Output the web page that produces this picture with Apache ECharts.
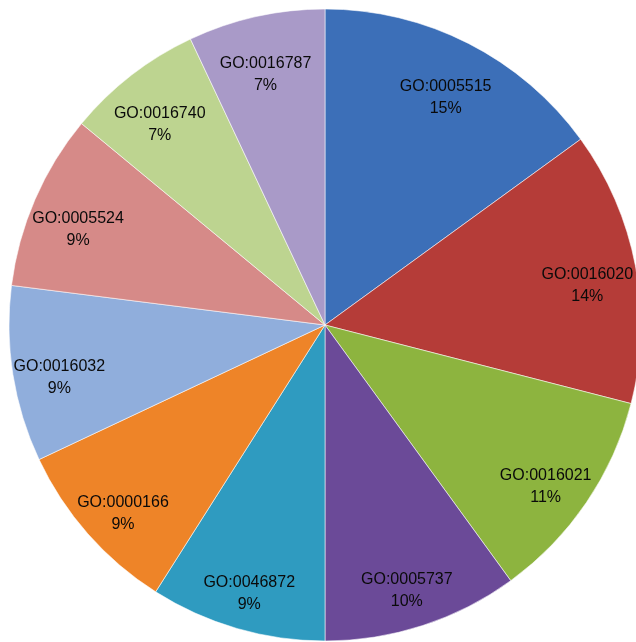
<!DOCTYPE html>
<html>
<head>
<meta charset="utf-8">
<script src="https://cdn.jsdelivr.net/npm/echarts@6/dist/echarts.min.js"></script>
<style>
html,body{margin:0;padding:0;background:#fff;}
#chart{width:636px;height:642px;}
</style>
</head>
<body>
<div id="chart"></div>
<script>
var categories = ['GO:0005515','GO:0016020','GO:0016021','GO:0005737','GO:0046872','GO:0000166','GO:0016032','GO:0005524','GO:0016740','GO:0016787'];
var percents = [15, 14, 11, 10, 9, 9, 9, 9, 7, 7];
var colors = ['#3C6FB8','#B53C38','#8DB43F','#6B4A98','#2F9BC0','#EE8428','#90AEDC','#D68A88','#BDD490','#A99AC8'];

var chart = echarts.init(document.getElementById('chart'), null, {renderer:'canvas'});
var pieData = categories.map(function(c,i){
  return {name:c, value:percents[i], itemStyle:{color:colors[i]}};
});
var labelData = categories.map(function(c,i){
  return {name:c, value:percents[i]};
});
chart.setOption({
  animation:false,
  series:[
    {
      type:'pie',
      center:[325,325],
      radius:[0,316],
      startAngle:90,
      clockwise:true,
      silent:true,
      data:pieData,
      itemStyle:{borderColor:'rgba(255,255,255,0.55)', borderWidth:1},
      label:{show:false},
      labelLine:{show:false}
    },
    {
      type:'pie',
      center:[324,336],
      radius:[214,316],
      startAngle:90,
      clockwise:true,
      silent:true,
      data:labelData,
      itemStyle:{color:'rgba(0,0,0,0)'},
      label:{
        show:true,
        position:'inside',
        formatter:function(p){return p.name+'\n'+p.value+'%';},
        fontFamily:'Liberation Sans, Arial, sans-serif',
        fontSize:16,
        lineHeight:22,
        color:'#0a0a0a',
        textBorderWidth:0
      },
      labelLine:{show:false}
    }
  ]
});
</script>
</body>
</html>
